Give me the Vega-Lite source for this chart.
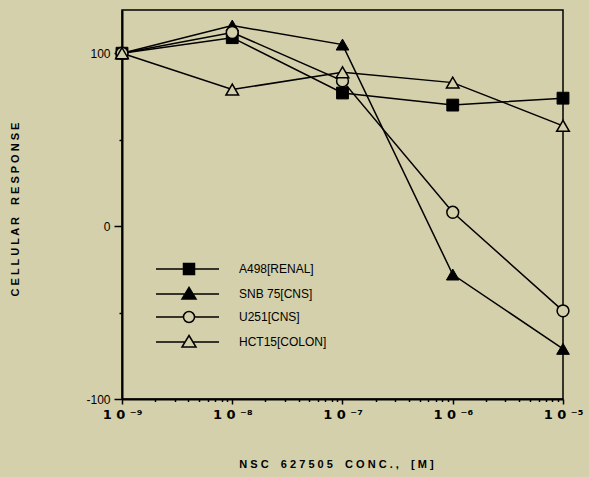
{
  "$schema": "https://vega.github.io/schema/vega-lite/v6.json",
  "width": 441,
  "height": 389,
  "autosize": "none",
  "padding": {"left": 122, "top": 10, "right": 26, "bottom": 78},
  "background": "#d4d0ab",
  "config": {
    "view": {"stroke": "black", "strokeWidth": 1.5},
    "font": "Liberation Sans",
    "legend": {
      "title": null,
      "orient": "none",
      "legendX": 61,
      "legendY": 253,
      "padding": 0,
      "symbolSize": 100,
      "symbolStrokeWidth": 1.5,
      "symbolStrokeColor": "black",
      "labelOffset": 44,
      "labelFont": "Liberation Sans",
      "labelFontSize": 12,
      "labelColor": "black",
      "rowPadding": 6
    }
  },
  "data": {
    "values": [
      {"conc": 1e-9, "series": "A498[RENAL]", "response": 100},
      {"conc": 1e-8, "series": "A498[RENAL]", "response": 109},
      {"conc": 1e-7, "series": "A498[RENAL]", "response": 77},
      {"conc": 1e-6, "series": "A498[RENAL]", "response": 70},
      {"conc": 1e-5, "series": "A498[RENAL]", "response": 74},
      {"conc": 1e-9, "series": "SNB 75[CNS]", "response": 100},
      {"conc": 1e-8, "series": "SNB 75[CNS]", "response": 116},
      {"conc": 1e-7, "series": "SNB 75[CNS]", "response": 105},
      {"conc": 1e-6, "series": "SNB 75[CNS]", "response": -28},
      {"conc": 1e-5, "series": "SNB 75[CNS]", "response": -71},
      {"conc": 1e-9, "series": "U251[CNS]", "response": 100},
      {"conc": 1e-8, "series": "U251[CNS]", "response": 112},
      {"conc": 1e-7, "series": "U251[CNS]", "response": 84},
      {"conc": 1e-6, "series": "U251[CNS]", "response": 8},
      {"conc": 1e-5, "series": "U251[CNS]", "response": -49},
      {"conc": 1e-9, "series": "HCT15[COLON]", "response": 100},
      {"conc": 1e-8, "series": "HCT15[COLON]", "response": 79},
      {"conc": 1e-7, "series": "HCT15[COLON]", "response": 89},
      {"conc": 1e-6, "series": "HCT15[COLON]", "response": 83},
      {"conc": 1e-5, "series": "HCT15[COLON]", "response": 58}
    ]
  },
  "encoding": {
    "x": {
      "field": "conc",
      "type": "quantitative",
      "scale": {"type": "log", "domain": [1e-9, 1e-5], "nice": false},
      "axis": {
        "title": "N S C\u00a0\u00a0\u00a0 6 2 7 5 0 5\u00a0\u00a0\u00a0 C O N C . ,\u00a0\u00a0\u00a0 [ M ]",
        "titleFont": "Liberation Sans",
        "titleFontSize": 11,
        "titleFontWeight": "bold",
        "titleColor": "black",
        "titleX": 214,
        "titleY": 65,
        "titleBaseline": "middle",
        "titleAnchor": "middle",
        "values": [1e-9, 2e-9, 3e-9, 4e-9, 5e-9, 6e-9, 7e-9, 8e-9, 9e-9,
                   1e-8, 2e-8, 3e-8, 4e-8, 5e-8, 6e-8, 7e-8, 8e-8, 9e-8,
                   1e-7, 2e-7, 3e-7, 4e-7, 5e-7, 6e-7, 7e-7, 8e-7, 9e-7,
                   1e-6, 2e-6, 3e-6, 4e-6, 5e-6, 6e-6, 7e-6, 8e-6, 9e-6, 1e-5],
        "labelExpr": "abs(log(datum.value)/LN10 - round(log(datum.value)/LN10)) < 0.001 ? '1 0 ⁻' + (['⁰','¹','²','³','⁴','⁵','⁶','⁷','⁸','⁹'][-round(log(datum.value)/LN10)]) : ''",
        "labelFont": "DejaVu Sans",
        "labelFontSize": 13,
        "labelFontWeight": "bold",
        "labelColor": "black",
        "labelPadding": 4,
        "labelFlush": false,
        "labelOverlap": false,
        "domainColor": "black",
        "domainWidth": 2,
        "tickColor": "black",
        "tickWidth": 1.5,
        "tickSize": {"condition": {"test": "abs(log(datum.value)/LN10 - round(log(datum.value)/LN10)) < 0.001", "value": 5}, "value": 2.5},
        "grid": false
      }
    },
    "y": {
      "field": "response",
      "type": "quantitative",
      "scale": {"domain": [-100, 125], "nice": false, "zero": false},
      "axis": {
        "title": "C E L L U L A R\u00a0\u00a0\u00a0 R E S P O N S E",
        "titleFont": "Liberation Sans",
        "titleFontSize": 11,
        "titleFontWeight": "bold",
        "titleColor": "black",
        "titleX": -107,
        "titleY": 199,
        "titleBaseline": "middle",
        "titleAnchor": "middle",
        "values": [-100, -50, 0, 50, 100],
        "labelExpr": "datum.value === -100 ? '-100' : datum.value % 100 === 0 ? datum.label : ''",
        "labelFont": "Liberation Sans",
        "labelFontSize": 12,
        "labelColor": "black",
        "labelPadding": 4,
        "labelFlush": false,
        "domainColor": "black",
        "domainWidth": 2,
        "tickColor": "black",
        "tickWidth": 1.5,
        "tickSize": {"condition": {"test": "datum.value % 100 === 0", "value": 8}, "value": 3},
        "grid": false
      }
    }
  },
  "layer": [
    {
      "mark": {"type": "line", "color": "black", "strokeWidth": 1.5},
      "encoding": {"detail": {"field": "series"}}
    },
    {
      "transform": [{"filter": "datum.series === 'A498[RENAL]'"}],
      "mark": {"type": "point", "shape": "square", "filled": true, "fill": "black", "stroke": "black", "strokeWidth": 1, "size": 140, "opacity": 1}
    },
    {
      "transform": [{"filter": "datum.series === 'SNB 75[CNS]'"}],
      "mark": {"type": "point", "shape": "triangle-up", "filled": true, "fill": "black", "stroke": "black", "strokeWidth": 1, "size": 160, "opacity": 1}
    },
    {
      "transform": [{"filter": "datum.series === 'U251[CNS]'"}],
      "mark": {"type": "point", "shape": "circle", "filled": true, "fill": "#d4d0ab", "stroke": "black", "strokeWidth": 1.5, "size": 140, "opacity": 1}
    },
    {
      "transform": [{"filter": "datum.series === 'HCT15[COLON]'"}],
      "mark": {"type": "point", "shape": "triangle-up", "filled": true, "fill": "#d4d0ab", "stroke": "black", "strokeWidth": 1.5, "size": 160, "opacity": 1}
    },
    {
      "transform": [{"filter": "datum.conc < 0"}],
      "mark": {"type": "point", "filled": true, "strokeWidth": 1.5, "opacity": 1},
      "encoding": {
        "fill": {
          "field": "series",
          "type": "nominal",
          "scale": {
            "domain": ["A498[RENAL]", "SNB 75[CNS]", "U251[CNS]", "HCT15[COLON]"],
            "range": ["black", "black", "#d4d0ab", "#d4d0ab"]
          }
        },
        "stroke": {
          "field": "series",
          "type": "nominal",
          "scale": {
            "domain": ["A498[RENAL]", "SNB 75[CNS]", "U251[CNS]", "HCT15[COLON]"],
            "range": ["black", "black", "black", "black"]
          }
        },
        "shape": {
          "field": "series",
          "type": "nominal",
          "scale": {
            "domain": ["A498[RENAL]", "SNB 75[CNS]", "U251[CNS]", "HCT15[COLON]"],
            "range": [
              "M-6.6,0H6M-1.1,-1.1H1.1V1.1H-1.1Z",
              "M-6.6,0H6M0,-1.3L1.4,1L-1.4,1Z",
              "M-6.6,0H-1.1M1.1,0H6M1.1,0A1.1,1.1 0 1,1 -1.1,0A1.1,1.1 0 1,1 1.1,0Z",
              "M-6.6,0H-0.79M0.79,0H6M0,-1.3L1.4,1L-1.4,1Z"
            ]
          }
        }
      }
    }
  ]
}
